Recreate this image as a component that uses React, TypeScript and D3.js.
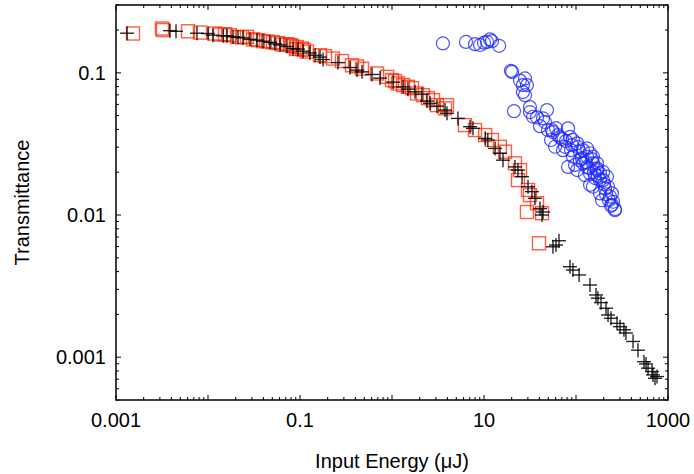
import React from "react";
import * as d3 from "d3";

// Input energy (µJ) and transmittance, black crosses
const crossData: [number, number][] = [
  [0.00132, 0.19], [0.00386, 0.198], [0.00449, 0.196], [0.00759, 0.19], [0.01, 0.189],
  [0.0113, 0.184], [0.0146, 0.182], [0.0161, 0.182], [0.0187, 0.179], [0.0212, 0.178],
  [0.024, 0.176], [0.0286, 0.172], [0.0341, 0.17], [0.0396, 0.167], [0.0472, 0.164],
  [0.0535, 0.16], [0.0606, 0.157], [0.0722, 0.153], [0.0839, 0.148], [0.0951, 0.147],
  [0.108, 0.142], [0.128, 0.138], [0.146, 0.133], [0.165, 0.129], [0.178, 0.124],
  [0.259, 0.118], [0.349, 0.109], [0.417, 0.1045], [0.472, 0.1016], [0.606, 0.0974],
  [0.741, 0.0918], [1.03, 0.086], [1.32, 0.0797], [1.49, 0.0768], [1.78, 0.0735],
  [2.12, 0.0708], [2.4, 0.0633], [2.59, 0.061], [3.08, 0.0583], [3.77, 0.0547],
  [3.96, 0.0519], [5.21, 0.0478], [7.05, 0.0418], [7.59, 0.0407], [10.3, 0.0346],
  [11.0, 0.0337], [13.2, 0.0294], [14.9, 0.0272], [16.1, 0.0243], [21.7, 0.0218],
  [23.4, 0.0207], [25.9, 0.0186], [30.1, 0.0158], [33.2, 0.0146], [35.8, 0.0131],
  [40.6, 0.0111], [43.8, 0.0105], [42.7, 0.01], [56.2, 0.00598], [60.6, 0.00615],
  [65.3, 0.00659], [86.1, 0.00433], [92.7, 0.0041], [108, 0.00379], [142, 0.00322],
  [165, 0.00274], [173, 0.0026], [187, 0.00242], [212, 0.00221], [223, 0.00198],
  [240, 0.00188], [279, 0.00173], [301, 0.00164], [332, 0.00156], [349, 0.00148],
  [417, 0.00129], [472, 0.00112], [548, 0.00093], [577, 0.000897], [607, 0.000837],
  [670, 0.000792], [687, 0.000751], [722, 0.000711], [759, 0.000731],
];

// Red open squares
const squareData: [number, number][] = [
  [0.00153, 0.189], [0.00316, 0.205], [0.00324, 0.2], [0.00606, 0.196], [0.00819, 0.192],
  [0.0119, 0.189], [0.0135, 0.186], [0.0153, 0.187], [0.0173, 0.184], [0.0207, 0.179],
  [0.0234, 0.178], [0.0265, 0.179], [0.0308, 0.172], [0.0349, 0.17], [0.0396, 0.167],
  [0.0449, 0.166], [0.0509, 0.164], [0.0577, 0.162], [0.0653, 0.158], [0.0722, 0.159],
  [0.0778, 0.157], [0.0819, 0.155], [0.0905, 0.147], [0.0927, 0.152], [0.105, 0.148],
  [0.11, 0.145], [0.119, 0.141], [0.165, 0.133], [0.187, 0.131], [0.228, 0.126],
  [0.286, 0.121], [0.367, 0.113], [0.417, 0.111], [0.472, 0.107], [0.687, 0.099],
  [0.883, 0.0937], [1.0, 0.0889], [1.08, 0.0875], [1.16, 0.0842], [1.32, 0.082],
  [1.49, 0.0797], [1.65, 0.078], [1.87, 0.0716], [2.17, 0.0697], [2.46, 0.0664],
  [2.79, 0.0643], [3.08, 0.0593], [3.96, 0.0593], [3.77, 0.0562], [6.21, 0.0429],
  [7.98, 0.0396], [10.3, 0.0365], [12.2, 0.0337], [14.9, 0.0302], [16.9, 0.0279],
  [21.7, 0.0231], [24.6, 0.0207], [23.4, 0.0176], [30.1, 0.015], [31.6, 0.0138],
  [37.7, 0.0121], [29.3, 0.0105], [42.7, 0.0103], [39.6, 0.00633],
];

// Blue open circles
const circleData: [number, number][] = [
  [3.58, 0.161], [6.37, 0.165], [7.98, 0.159], [9.05, 0.157], [10.0, 0.163],
  [10.8, 0.165], [11.6, 0.172], [12.2, 0.167], [14.6, 0.155], [19.6, 0.1033],
  [20.2, 0.1016], [24.6, 0.0882], [27.9, 0.0913], [26.5, 0.082], [29.3, 0.082],
  [26.5, 0.0732], [27.9, 0.0697], [21.2, 0.0538], [31.6, 0.0574], [31.6, 0.053],
  [34.1, 0.0491], [37.7, 0.0486], [48.4, 0.0547], [43.8, 0.0478], [49.6, 0.0396],
  [54.8, 0.0396], [56.2, 0.0383], [81.9, 0.0407], [70.5, 0.0342], [75.9, 0.0302],
  [86.1, 0.0355], [90.5, 0.031], [92.7, 0.0337], [103, 0.0319], [72.2, 0.0286],
  [92.7, 0.0257], [110, 0.0279], [119, 0.0286], [132, 0.0294], [119, 0.0231],
  [132, 0.0257], [142, 0.0272], [153, 0.0257], [153, 0.0231], [103, 0.0207],
  [97.6, 0.0225], [81.9, 0.0218], [132, 0.0218], [142, 0.0196], [169, 0.0231],
  [169, 0.0207], [169, 0.0213], [182, 0.0196], [197, 0.0201], [182, 0.0176],
  [217, 0.0186], [197, 0.0176], [142, 0.0163], [153, 0.0158], [207, 0.0154],
  [223, 0.0158], [182, 0.0142], [234, 0.0135], [246, 0.0142], [192, 0.0127],
  [253, 0.0124], [246, 0.0118], [265, 0.0108], [265, 0.011], [63.7, 0.0365],
  [59.2, 0.0302], [110, 0.0243], [125, 0.0191], [161, 0.0182],
  [67, 0.0353], [77.8, 0.0331], [88.3, 0.0286], [105, 0.0301], [116, 0.0251],
  [128, 0.0236], [138, 0.0214], [149, 0.0247], [157, 0.02], [173, 0.0188],
  [201, 0.0165], [212, 0.014], [228, 0.0127], [240, 0.0116], [60.6, 0.0409],
  [46, 0.0451], [40.6, 0.0422], [53.5, 0.0337],
];

const xTickLabels = [0.001, 0.1, 10, 1000];
const yTickLabels = [0.1, 0.01, 0.001];
const xTitle = "Input Energy (\u03bcJ)";
const yTitle = "Transmittance";

const W = 694;
const H = 474;
const left = 116;
const right = 668;
const top = 5;
const bottom = 400;

function minorTicks(lo: number, hi: number): number[] {
  const out: number[] = [];
  for (let e = Math.floor(Math.log10(lo)); e <= Math.ceil(Math.log10(hi)); e++) {
    for (let m = 1; m <= 9; m++) {
      const v = m * Math.pow(10, e);
      if (v >= lo * 0.9999 && v <= hi * 1.0001) out.push(v);
    }
  }
  return out;
}

export default function App() {
  const x = d3.scaleLog().domain([0.001, 1000]).range([left, right]);
  const y = d3.scaleLog().domain([0.0005, 0.3]).range([bottom, top]);

  const xt = minorTicks(0.001, 1000);
  const yt = minorTicks(0.0005, 0.3);
  const isMajor = (v: number) => Math.abs(Math.log10(v) - Math.round(Math.log10(v))) < 1e-6;
  const font = "'Liberation Sans', Arial, sans-serif";
  const arm = 7;
  const half = 6.5;

  return (
    <svg width={W} height={H} style={{ position: "absolute", left: 0, top: 0, background: "#fff" }}>
      <rect x={0} y={0} width={W} height={H} fill="#fff" />
      {/* ticks on all four sides, pointing inward */}
      <g stroke="#000" strokeWidth={1}>
        {xt.map((v, i) => {
          const len = isMajor(v) ? 5 : 3;
          const px = x(v);
          return (
            <g key={"xt" + i}>
              <line x1={px} x2={px} y1={bottom} y2={bottom - len} />
              <line x1={px} x2={px} y1={top} y2={top + len} />
            </g>
          );
        })}
        {yt.map((v, i) => {
          const len = isMajor(v) ? 5 : 3;
          const py = y(v);
          return (
            <g key={"yt" + i}>
              <line x1={left} x2={left + len} y1={py} y2={py} />
              <line x1={right} x2={right - len} y1={py} y2={py} />
            </g>
          );
        })}
      </g>

      {/* red squares */}
      <g fill="none" stroke="rgb(255,40,0)" strokeOpacity={0.75} strokeWidth={1.4}>
        {squareData.map(([e, t], i) => (
          <rect key={"s" + i} x={x(e) - half} y={y(t) - half} width={half * 2} height={half * 2} />
        ))}
      </g>

      {/* black crosses */}
      <g stroke="#000" strokeOpacity={0.85} strokeWidth={1.4}>
        {crossData.map(([e, t], i) => {
          const px = x(e);
          const py = y(t);
          return (
            <g key={"c" + i}>
              <line x1={px - arm} x2={px + arm} y1={py} y2={py} />
              <line x1={px} x2={px} y1={py - arm} y2={py + arm} />
            </g>
          );
        })}
      </g>

      {/* blue circles */}
      <g fill="none" stroke="rgb(30,40,255)" strokeOpacity={0.8} strokeWidth={1.2}>
        {circleData.map(([e, t], i) => (
          <circle key={"o" + i} cx={x(e)} cy={y(t)} r={6.5} />
        ))}
      </g>

      <rect x={left} y={top} width={right - left} height={bottom - top} fill="none" stroke="#000" strokeWidth={1.5} />

      <g fontFamily={font} fontSize={20} fill="#000">
        {xTickLabels.map((v) => (
          <text key={"xl" + v} x={x(v)} y={427} textAnchor="middle">{String(v)}</text>
        ))}
        {yTickLabels.map((v) => (
          <text key={"yl" + v} x={106} y={y(v) + 7} textAnchor="end">{String(v)}</text>
        ))}
        <text x={(left + right) / 2} y={468} textAnchor="middle">{xTitle}</text>
        <text transform={`translate(29,${(top + bottom) / 2}) rotate(-90)`} textAnchor="middle">{yTitle}</text>
      </g>
    </svg>
  );
}
